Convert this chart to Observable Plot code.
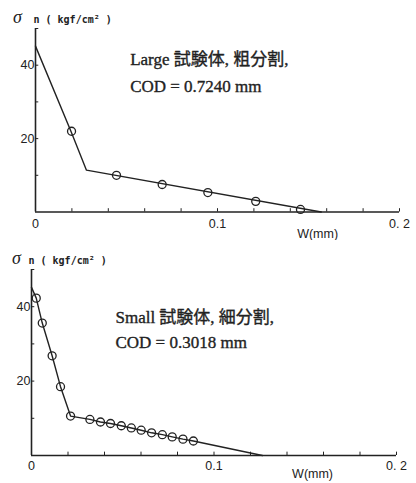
<!DOCTYPE html>
<html><head><meta charset="utf-8">
<script src="https://cdn.jsdelivr.net/npm/d3@7"></script>
<script src="https://cdn.jsdelivr.net/npm/@observablehq/plot@0.6"></script>
<style>
body{margin:0;background:#fff;}
#wrap{position:relative;width:416px;height:483px;overflow:hidden;}
#top{position:absolute;left:0;top:0;}
#bot{position:absolute;left:0;top:240px;}
</style></head><body><div id="wrap"><div id="top"></div><div id="bot"></div></div>
<script>
// ---- data ----
const xTicks = [0, 0.02, 0.04, 0.06, 0.08, 0.1, 0.12, 0.14, 0.16, 0.18, 0.2];
const xLabelVals = [0, 0.1, 0.2];
const xLabels = ["0", "0.1", "0. 2"];
const yTicks = [10, 20, 30, 40, 50];
const yLabelVals = [20, 40];
const yLabels = ["20", "40"];

// Large specimen, coarse mesh
const largeLineW = [0, 0.0198, 0.028, 0.157];
const largeLineS = [45.2, 21.6, 11.4, 0];
const largeDotW = [0.0198, 0.0445, 0.0696, 0.0947, 0.121, 0.1456];
const largeDotS = [22.0, 10.0, 7.5, 5.3, 2.9, 0.7];

// Small specimen, fine mesh
const smallLineW = [0, 0.0026, 0.0059, 0.0113, 0.0159, 0.0214, 0.032, 0.0378, 0.0433, 0.0492, 0.0547, 0.0601, 0.0658, 0.0717, 0.0771, 0.083, 0.0887, 0.1265];
const smallLineS = [45.2, 42.3, 35.6, 26.8, 18.5, 10.6, 9.7, 9.0, 8.6, 8.0, 7.4, 6.8, 6.1, 5.6, 5.0, 4.4, 3.9, 0];
const smallDotW = [0.0026, 0.0059, 0.0113, 0.0159, 0.0214, 0.032, 0.0378, 0.0433, 0.0492, 0.0547, 0.0601, 0.0658, 0.0717, 0.0771, 0.083, 0.0887];
const smallDotS = [42.3, 35.6, 26.8, 18.5, 10.6, 9.7, 9.0, 8.6, 8.0, 7.4, 6.8, 6.1, 5.6, 5.0, 4.4, 3.9];

const largeNote = ["Large 試験体, 粗分割,", "COD = 0.7240 mm"];
const smallNote = ["Small 試験体, 細分割,", "COD = 0.3018 mm"];
const yTitleSym = "σ";
const yTitleRest = "n ( kgf/cm² )";
const xTitle = "W(mm)";

const INK = "#222";

function chart(o) {
  const lineIdx = d3.range(o.lineW.length);
  const dotIdx = d3.range(o.dotW.length);
  return Plot.plot({
    width: 416, height: o.height,
    marginLeft: o.ml, marginRight: o.mr, marginTop: o.mt, marginBottom: o.mb,
    x: {domain: [0, 0.2], axis: null},
    y: {domain: [0, 50], axis: null},
    style: {background: "white"},
    marks: [
      Plot.ruleY([0], {x1: 0, x2: 0.2, stroke: INK, strokeWidth: 1.6}),
      Plot.ruleX([0], {y1: 0, y2: 50, stroke: INK, strokeWidth: 1.6}),
      Plot.ruleX(xTicks, {x: d => d, y1: 0, y2: 0.9, stroke: INK, strokeWidth: 1}),
      Plot.ruleY(yTicks, {y: d => d, x1: 0, x2: 0.0018, stroke: INK, strokeWidth: 1}),
      Plot.text(xLabelVals, {x: d => d, y: 0, text: (d, i) => xLabels[i], dy: o.xdy, fontSize: 12.5, fontFamily: "Liberation Sans, sans-serif", fill: INK}),
      Plot.text(yLabelVals, {x: 0, y: d => d, text: (d, i) => yLabels[i], textAnchor: "end", dx: -1, fontSize: 12.5, fontFamily: "Liberation Sans, sans-serif", fill: INK}),
      Plot.text([xTitle], {x: o.xtx, y: 0, dy: o.xtdy, fontSize: 12.5, fontFamily: "Liberation Sans, sans-serif", fill: INK}),
      Plot.text([yTitleSym], {x: 0, y: 50, dx: o.sdx, dy: -11, fontSize: 18, fontStyle: "italic", fontFamily: "Liberation Serif, serif", fill: INK}),
      Plot.text([yTitleRest], {x: 0, y: 50, dx: o.ndx, dy: -9, textAnchor: "start", fontSize: 10, fontWeight: "bold", fontFamily: "DejaVu Sans Mono, monospace", fill: INK}),
      Plot.line(lineIdx, {x: i => o.lineW[i], y: i => o.lineS[i], stroke: INK, strokeWidth: 1.4}),
      Plot.dot(dotIdx, {x: i => o.dotW[i], y: i => o.dotS[i], r: 4, stroke: INK, strokeWidth: 1.3, fill: "none"}),
      Plot.text(o.note, {x: o.noteX, y: (d, i) => o.noteY[i], text: d => d, textAnchor: "start", fontSize: 17, stroke: INK, strokeWidth: 0.35, fontFamily: "Liberation Serif, Noto Sans CJK JP, serif", fill: INK})
    ]
  });
}

document.getElementById("top").append(chart({
  height: 240, ml: 35, mr: 17, mt: 28, mb: 28.5,
  lineW: largeLineW, lineS: largeLineS, dotW: largeDotW, dotS: largeDotS,
  xdy: 12, xtx: 0.155, xtdy: 21.5, sdx: -18, ndx: -2,
  note: largeNote, noteX: 0.052, noteY: [41.5, 34.1]
}));
document.getElementById("bot").append(chart({
  height: 243, ml: 31, mr: 20, mt: 29, mb: 28,
  lineW: smallLineW, lineS: smallLineS, dotW: smallDotW, dotS: smallDotS,
  xdy: 10, xtx: 0.154, xtdy: 18, sdx: -15, ndx: -3,
  note: smallNote, noteX: 0.046, noteY: [37.1, 30.4]
}));
</script></body></html>
